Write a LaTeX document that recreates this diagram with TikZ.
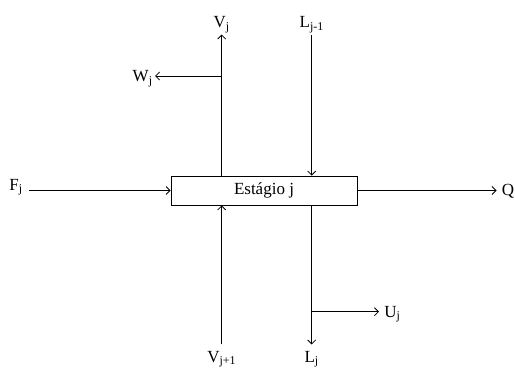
\documentclass[tikz,border=0pt]{standalone}
\usepackage{fontspec}
\setmainfont{Liberation Serif}
\usetikzlibrary{arrows.meta}

\begin{document}
\begin{tikzpicture}[x=1pt,y=-1pt,line width=0.8pt,>={Straight Barb[length=4pt,width=8pt]},
  rot/.style={inner sep=1pt,font=\fontsize{17}{20}\selectfont},
  baixo/.style={rot,anchor=base,inner ysep=6pt}]
  \useasboundingbox (0,0) rectangle (515,369);
  % estagio
  \node[draw,rot,minimum width=186pt,minimum height=29pt,inner sep=0pt] (st) at (264,190.5) {Est\'agio j};
  % correntes de topo
  \node[rot,anchor=base] (Vj) at (221.7,28) {V\textsubscript{j}};
  \node[rot,anchor=base] (Lj1) at (311.7,28) {L\textsubscript{j-1}};
  \node[rot,anchor=base east,inner xsep=2pt] (Wj) at (155,82) {W\textsubscript{j}};
  \coordinate (wb) at (221.7,76);
  \draw[->] (st.north -| Vj) -- (Vj.south);
  \draw[->] (wb) -- (wb -| Wj.east);
  \draw[->] (Lj1.south) -- (st.north -| Lj1);
  % alimentacao e saida lateral
  \node[rot,anchor=base west] (Fj) at (8,190) {F\textsubscript{j}};
  \node[rot,anchor=west,inner xsep=5pt] (Q) at (496.5,191) {Q};
  \draw[->,shorten <=5pt] (Fj.east |- st) -- (st.west);
  \draw[->] (st.east) -- (st.east -| Q.west);
  % correntes de fundo
  \node[baixo] (Vj2) at (221.7,362) {V\textsubscript{j+1}};
  \node[baixo] (Lj) at (311.7,362) {L\textsubscript{j}};
  \node[rot,anchor=base west,inner xsep=5pt] (Uj) at (379,317) {U\textsubscript{j}};
  \coordinate (ub) at (311.7,311.7);
  \draw[->] (Vj2.north) -- (st.south -| Vj2);
  \draw[->] (st.south -| Lj) -- (Lj.north);
  \draw[->] (ub) -- (ub -| Uj.west);
\end{tikzpicture}
\end{document}
